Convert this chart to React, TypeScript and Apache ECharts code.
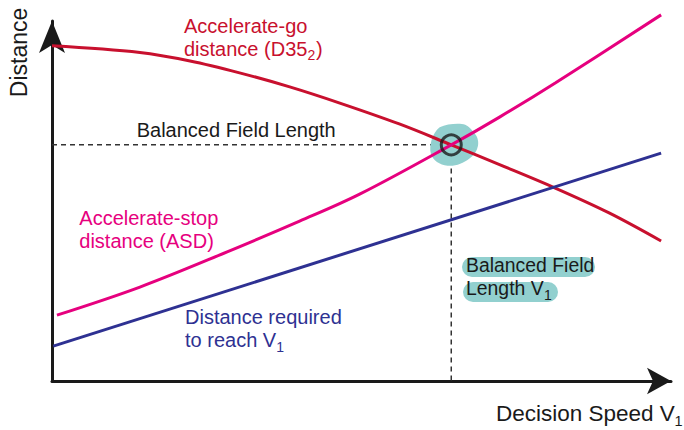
import React, { useEffect, useRef } from "react";
import * as echarts from "echarts";

// Decision speed (x, 0-100) and distance (y, 0-100), schematic units
const accelGoX = [0, 14.2, 22.3, 30.3, 38.4, 46.5, 56.1, 64.5, 72.3, 81.3, 90, 98.4];
const accelGoY = [93.1, 91.25, 88.9, 85.6, 81.7, 77.2, 71.4, 65.6, 60.1, 53.6, 46.7, 38.9];
const accelStopX = [0.8, 14.2, 28.2, 40, 49.7, 64.5, 72.3, 81.3, 98.4];
const accelStopY = [18.3, 26.1, 35.8, 44.4, 51.9, 65.6, 73.3, 82.8, 101.7];
const reachV1X = [0.2, 98.4];
const reachV1Y = [9.7, 63.3];
const balancedV1 = 64.5;
const balancedDist = 65.6;

const RED = "#c8102e";
const PINK = "#e6007e";
const BLUE = "#2e3192";
const TEAL = "#92d0cf";
const DARK = "#1a1a1a";
const FONT = "'Liberation Sans', Arial, Helvetica, sans-serif";

const zip = (xs: number[], ys: number[]) => xs.map((x, i) => [x, ys[i]]);

// text helper: baseline-positioned label
const txt = (text: string, x: number, baseline: number, size: number, fill: string, extra: any = {}) => ({
  type: "text",
  x,
  y: baseline - size * 0.3465,
  style: { text, fill, fontSize: size, fontFamily: FONT, align: "left", verticalAlign: "middle" },
  ...extra,
});

const BLOB =
  "path://M20,10 C35,2 60,0 72,4 C80,8 84,14 88,20 C96,28 100,40 98,52 C96,64 90,74 80,82 C68,92 52,100 36,98 C20,96 6,86 2,70 C-2,54 4,24 20,10 Z";

export default function App() {
  const ref = useRef<HTMLDivElement>(null);
  useEffect(() => {
    if (!ref.current) return;
    const chart = echarts.init(ref.current, null, { renderer: "svg" });
    const axisCommon = {
      type: "value",
      min: 0,
      max: 100,
      axisTick: { show: false },
      axisLabel: { show: false },
      splitLine: { show: false },
    };
    chart.setOption({
      animation: false,
      backgroundColor: "#ffffff",
      grid: { left: 52, right: 13, top: 21, bottom: 49 },
      xAxis: {
        ...axisCommon,
        axisLine: {
          show: true,
          symbol: ["none", "arrow"],
          symbolSize: [20, 24],
          lineStyle: { color: DARK, width: 3 },
        },
      },
      yAxis: {
        ...axisCommon,
        axisLine: {
          show: true,
          symbol: ["none", "arrow"],
          symbolSize: [19.5, 32],
          lineStyle: { color: DARK, width: 3 },
        },
      },
      series: [
        {
          type: "line",
          z: 1,
          data: [
            [0, balancedDist],
            [balancedV1, balancedDist],
            [balancedV1, 0],
          ],
          showSymbol: false,
          silent: true,
          lineStyle: { color: "#333", width: 1.5, type: [5, 4] },
        },
        {
          type: "scatter",
          z: 2,
          data: [[balancedV1, balancedDist]],
          symbol: BLOB,
          symbolSize: [48, 42],
          symbolOffset: [3, 0],
          itemStyle: { color: TEAL, opacity: 1 },
          silent: true,
        },
        {
          type: "line",
          z: 3,
          data: zip(accelGoX, accelGoY),
          smooth: 0.35,
          showSymbol: false,
          clip: false,
          lineStyle: { color: RED, width: 3 },
        },
        {
          type: "line",
          z: 3,
          data: zip(accelStopX, accelStopY),
          smooth: 0.35,
          showSymbol: false,
          clip: false,
          lineStyle: { color: PINK, width: 3 },
        },
        {
          type: "line",
          z: 3,
          data: zip(reachV1X, reachV1Y),
          showSymbol: false,
          clip: false,
          lineStyle: { color: BLUE, width: 3 },
        },
        {
          type: "scatter",
          z: 4,
          data: [[balancedV1, balancedDist]],
          symbol: "circle",
          symbolSize: 20,
          itemStyle: { color: "rgba(0,0,0,0)", borderColor: DARK, borderWidth: 3 },
          silent: true,
        },
      ],
      graphic: [
        { type: "rect", shape: { x: 462, y: 257, width: 133, height: 20, r: 10 }, style: { fill: TEAL } },
        { type: "rect", shape: { x: 463, y: 282, width: 95, height: 20, r: 10 }, style: { fill: TEAL } },
        txt("Accelerate-go", 184, 33, 20, RED),
        txt("distance (D35", 184, 56, 20, RED),
        txt("2", 307.4, 60, 14, RED),
        txt(")", 316, 56, 20, RED),
        txt("Balanced Field Length", 136.7, 137.3, 20, DARK),
        txt("Accelerate-stop", 79.3, 225, 20, PINK),
        txt("distance (ASD)", 79.3, 248.3, 20, PINK),
        txt("Distance required", 185, 324, 20, BLUE),
        txt("to reach V", 185, 347.3, 20, BLUE),
        txt("1", 276.2, 352, 14, BLUE),
        txt("Balanced Field", 466, 272, 19.4, DARK),
        txt("Length V", 466, 295, 19.4, DARK),
        txt("1", 544, 300, 14, DARK),
        txt("Decision Speed V", 496, 421.5, 22.5, DARK),
        txt("1", 674.6, 426, 14.5, DARK),
        {
          type: "text",
          x: 18.7,
          y: 52.5,
          rotation: Math.PI / 2,
          style: { text: "Distance", fill: DARK, fontSize: 23, fontFamily: FONT, align: "center", verticalAlign: "middle" },
        },
      ],
    });
    return () => chart.dispose();
  }, []);
  return (
    <div
      ref={ref}
      style={{ position: "absolute", left: 0, top: 0, width: 684, height: 430, background: "#fff" }}
    />
  );
}
